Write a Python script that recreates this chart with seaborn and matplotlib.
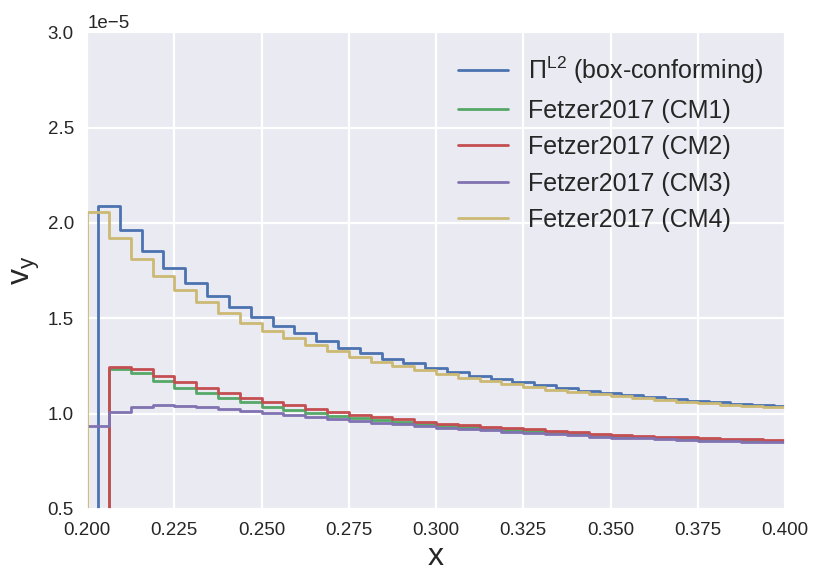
import numpy as np
import matplotlib
matplotlib.use('Agg')
import matplotlib.pyplot as plt
import seaborn as sns

# valores (em unidades de 1e-5)
passo = 0.00625
bordas = np.round(np.arange(0.2, 0.4 + passo / 2, passo), 6)          # 0.2 ... 0.4
bordas_pi = np.round(np.arange(0.2 + passo / 2, 0.4, passo), 6)      # 0.203125 ... 0.396875

pi_l2 = [2.088, 1.964, 1.854, 1.763, 1.684, 1.615, 1.557, 1.505, 1.461, 1.421,
         1.380, 1.345, 1.316, 1.288, 1.263, 1.239, 1.218, 1.197, 1.180, 1.164,
         1.148, 1.133, 1.120, 1.106, 1.096, 1.085, 1.075, 1.066, 1.059, 1.052,
         1.045, 1.041]
cm1 = [1.234, 1.213, 1.171, 1.136, 1.108, 1.082, 1.059, 1.037, 1.021, 1.003,
       0.989, 0.975, 0.965, 0.954, 0.946, 0.937, 0.928, 0.921, 0.914, 0.907,
       0.898, 0.891, 0.885, 0.880, 0.876, 0.871, 0.868, 0.864, 0.861, 0.858,
       0.856]
cm2 = [1.246, 1.235, 1.199, 1.164, 1.133, 1.106, 1.082, 1.062, 1.043, 1.026,
       1.010, 0.994, 0.982, 0.970, 0.958, 0.947, 0.939, 0.930, 0.922, 0.918,
       0.910, 0.902, 0.895, 0.889, 0.884, 0.879, 0.876, 0.872, 0.868, 0.865,
       0.862]
cm3 = [0.935, 1.010, 1.036, 1.043, 1.042, 1.035, 1.026, 1.015, 1.003, 0.991,
       0.980, 0.973, 0.961, 0.952, 0.944, 0.935, 0.926, 0.919, 0.912, 0.904,
       0.900, 0.893, 0.886, 0.879, 0.874, 0.871, 0.866, 0.862, 0.858, 0.856,
       0.853, 0.851]
cm4 = [2.055, 1.922, 1.812, 1.723, 1.649, 1.585, 1.527, 1.476, 1.433, 1.396,
       1.361, 1.328, 1.298, 1.272, 1.248, 1.227, 1.206, 1.187, 1.169, 1.154,
       1.139, 1.125, 1.113, 1.101, 1.090, 1.080, 1.071, 1.062, 1.056, 1.047,
       1.041, 1.036]

cores = ["#4C72B0", "#55A868", "#C44E52", "#8172B2", "#CCB974"]

sns.set_theme(style='darkgrid')
plt.rcParams['font.family'] = ['Liberation Sans', 'DejaVu Sans']
plt.rcParams['mathtext.fontset'] = 'custom'
plt.rcParams['mathtext.rm'] = 'Liberation Sans'
plt.rcParams['mathtext.it'] = 'Liberation Sans:italic'


def degraus(bordas_x, valores, inicio=None):
    # monta x/y para steps-post, com valor inicial fora da area visivel
    x = list(bordas_x)
    y = list(valores)
    if inicio is not None:
        x = [inicio[0]] + x
        y = [inicio[1]] + y
    x = x + [0.4]
    y = y + [y[-1]]
    return np.array(x), np.array(y) * 1e-5


fig, ax = plt.subplots(figsize=(8.22, 5.85), dpi=100)
fig.subplots_adjust(left=0.106, right=0.955, bottom=0.13, top=0.945)

series = [
    (r'$\Pi^{\mathrm{L2}}$ (box-conforming)', degraus(bordas_pi, pi_l2, (0.2, 0.0))),
    ('Fetzer2017 (CM1)', degraus(bordas[1:-1], cm1, (0.2, 0.0))),
    ('Fetzer2017 (CM2)', degraus(bordas[1:-1], cm2, (0.2, 0.0))),
    ('Fetzer2017 (CM3)', degraus(bordas[:-1], cm3)),
    ('Fetzer2017 (CM4)', degraus(bordas[:-1], cm4, (0.2 - passo, 0.0))),
]

for (nome, (xs, ys)), cor in zip(series, cores):
    sns.lineplot(x=xs, y=ys, ax=ax, color=cor, label=nome, lw=2,
                 drawstyle='steps-post', sort=False, estimator=None)

ax.set_xlim(0.2, 0.4)
ax.set_ylim(0.5e-5, 3.0e-5)
ax.set_xticks(np.round(np.arange(0.2, 0.4001, 0.025), 3))
ax.set_xticklabels(['%.3f' % v for v in np.arange(0.2, 0.4001, 0.025)])
ax.set_yticks(np.arange(0.5, 3.01, 0.5) * 1e-5)
ax.ticklabel_format(axis='y', style='sci', scilimits=(0, 0))
ax.tick_params(labelsize=13.5, colors='#262626')
ax.yaxis.get_offset_text().set_fontsize(13.5)
ax.grid(color='white', lw=1.6)

ax.set_xlabel('x', fontsize=23, color='#262626', labelpad=2)
ax.set_ylabel(r'$\mathregular{v_y}$', fontsize=23, color='#262626', labelpad=4)

ax.legend(loc='upper right', frameon=False, fontsize=18, handlelength=2.0,
          borderaxespad=0.5)

plt.savefig('out.png', dpi=100)
